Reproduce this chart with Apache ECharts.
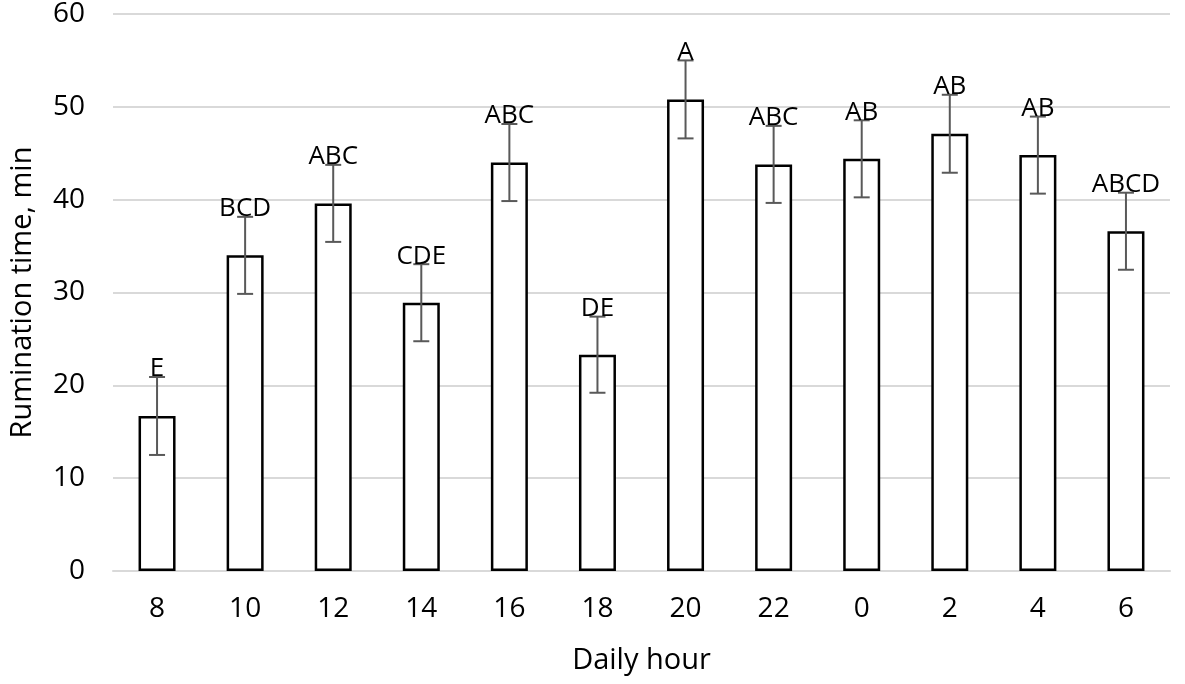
<!DOCTYPE html>
<html>
<head>
<meta charset="utf-8">
<script src="https://cdn.jsdelivr.net/npm/echarts@6/dist/echarts.min.js"></script>
<style>
  html, body { margin: 0; padding: 0; background: #fff; }
  #chart { width: 1185px; height: 684px; }
</style>
</head>
<body>
<div id="chart"></div>
<script>
// 数据：每两小时的反刍时间 (min)
const HOURS = ['8', '10', '12', '14', '16', '18', '20', '22', '0', '2', '4', '6'];
const MEANS = [16.7, 34.0, 39.6, 28.9, 44.0, 23.3, 50.8, 43.8, 44.4, 47.1, 44.8, 36.6];
const ERRORS = [4.2, 4.15, 4.15, 4.15, 4.15, 4.1, 4.2, 4.15, 4.15, 4.2, 4.15, 4.15];
const LETTERS = ['E', 'BCD', 'ABC', 'CDE', 'ABC', 'DE', 'A', 'ABC', 'AB', 'AB', 'AB', 'ABCD'];

const FONT = '"Open Sans", sans-serif';
const ERR_COLOR = '#595959';

let chart = echarts.init(document.getElementById('chart'));

// 误差线 + 字母标注
function renderError(params, api) {
  let idx = api.value(0);
  let hi = api.coord([idx, api.value(2)]);
  let lo = api.coord([idx, api.value(1)]);
  let half = 8;
  let style = { stroke: ERR_COLOR, lineWidth: 2 };
  return {
    type: 'group',
    children: [
      { type: 'line', shape: { x1: hi[0], y1: hi[1], x2: lo[0], y2: lo[1] }, style: style },
      { type: 'line', shape: { x1: hi[0] - half, y1: hi[1], x2: hi[0] + half, y2: hi[1] }, style: style },
      { type: 'line', shape: { x1: lo[0] - half, y1: lo[1], x2: lo[0] + half, y2: lo[1] }, style: style },
      {
        type: 'text',
        x: hi[0],
        y: hi[1] + 5,
        style: {
          text: LETTERS[idx],
          fill: '#000',
          font: '26px ' + FONT,
          textAlign: 'center',
          textVerticalAlign: 'bottom'
        }
      }
    ]
  };
}

let option = {
  animation: false,
  backgroundColor: '#fff',
  grid: { left: 109, right: 15, top: 14, bottom: 113 },
  xAxis: {
    type: 'category',
    data: HOURS,
    name: 'Daily hour',
    nameLocation: 'middle',
    nameGap: 75,
    nameTextStyle: { fontFamily: FONT, fontSize: 29, color: '#000' },
    axisLine: { lineStyle: { color: '#d9d9d9', width: 2 } },
    axisTick: { show: false },
    axisLabel: { fontFamily: FONT, fontSize: 28, color: '#000', margin: 24 }
  },
  yAxis: {
    type: 'value',
    min: 0,
    max: 60,
    interval: 10,
    name: 'Rumination time, min',
    nameLocation: 'middle',
    nameGap: 76,
    nameTextStyle: { fontFamily: FONT, fontSize: 29, color: '#000' },
    axisLine: { show: false },
    axisTick: { show: false },
    axisLabel: { fontFamily: FONT, fontSize: 28, color: '#000', margin: 28 },
    splitLine: { lineStyle: { color: '#d9d9d9', width: 2 } }
  },
  series: [
    {
      type: 'bar',
      data: MEANS,
      barWidth: '42%',
      itemStyle: { color: '#fff', borderColor: '#000', borderWidth: 2.5 }
    },
    {
      type: 'custom',
      renderItem: renderError,
      data: MEANS.map((m, i) => [i, m - ERRORS[i], m + ERRORS[i]]),
      z: 10
    }
  ]
};

chart.setOption(option);
</script>
</body>
</html>
